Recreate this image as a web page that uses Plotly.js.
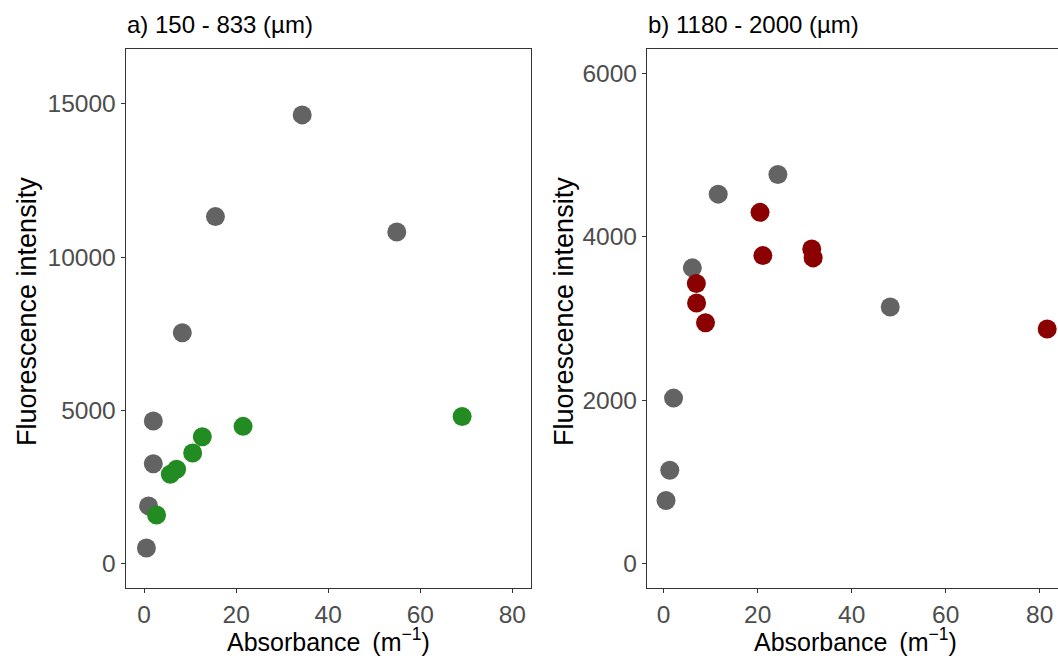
<!DOCTYPE html>
<html>
<head>
<meta charset="utf-8">
<script src="https://cdn.plot.ly/plotly-3.0.1.min.js"></script>
<style>html,body{margin:0;padding:0;background:#fff;}#chart{width:1058px;height:659px;}</style>
</head>
<body>
<div id="chart"></div>
<script>
// Panel a) 150 - 833 µm
const aGreyX = [34.35, 15.5, 54.9, 8.3, 2.0, 2.0, 0.97, 0.5];
const aGreyY = [14640, 11320, 10815, 7530, 4650, 3255, 1880, 505];
const aGreenX = [2.7, 5.7, 7.05, 10.55, 12.65, 21.5, 69.1];
const aGreenY = [1585, 2915, 3075, 3605, 4135, 4475, 4795];

// Panel b) 1180 - 2000 µm
const bGreyX = [24.3, 11.6, 6.1, 48.2, 2.1, 1.3, 0.5];
const bGreyY = [4760, 4520, 3618, 3138, 2024, 1141, 770];
const bRedX = [20.5, 21.1, 31.5, 31.8, 6.95, 7.0, 8.9, 81.6];
const bRedY = [4297, 3768, 3850, 3740, 3427, 3187, 2947, 2870];

// Tick labels
const xTicks = [0, 20, 40, 60, 80];
const xTickText = ["0", "20", "40", "60", "80"];
const aYTicks = [0, 5000, 10000, 15000];
const aYTickText = ["0", "5000", "10000", "15000"];
const bYTicks = [0, 2000, 4000, 6000];
const bYTickText = ["0", "2000", "4000", "6000"];

const titles = ["a) 150 - 833 (µm)", "b) 1180 - 2000 (µm)"];
const yTitle = "Fluorescence intensity";
const xTitle = "Absorbance &#8201;(m<sup>\u22121</sup>)";

const W = 1058, H = 659;
const px = v => v / W;
const py = v => 1 - v / H;

const GREY = '#636363', GREEN = '#228B22', RED = '#8B0000';
const msize = 19;

function mk(x, y, color, xa, ya) {
  return {x: x, y: y, type: 'scatter', mode: 'markers', xaxis: xa, yaxis: ya,
    marker: {color: color, size: msize, line: {width: 0}}, hoverinfo: 'skip', cliponaxis: false};
}

const data = [
  mk(aGreyX, aGreyY, GREY, 'x', 'y'),
  mk(aGreenX, aGreenY, GREEN, 'x', 'y'),
  mk(bGreyX, bGreyY, GREY, 'x2', 'y2'),
  mk(bRedX, bRedY, RED, 'x2', 'y2')
];

const FONT = 'Liberation Sans, Arial, sans-serif';
const axBase = {
  showgrid: false, zeroline: false, ticks: 'outside', ticklen: 4, tickwidth: 1.1,
  tickcolor: '#333333', showline: true, linecolor: '#333333', linewidth: 1.1,
  tickfont: {family: FONT, size: 24.5, color: '#4D4D4D'}, fixedrange: true, tickmode: 'array'
};

const yDom = [py(588), py(48.7)];

const layout = {
  width: W, height: H,
  margin: {l: 0, r: 0, t: 0, b: 0},
  paper_bgcolor: '#ffffff', plot_bgcolor: '#ffffff',
  showlegend: false,
  font: {family: FONT},
  xaxis: Object.assign({}, axBase, {domain: [px(125.7), px(530.7)], range: [-4, 84], tickvals: xTicks, ticktext: xTickText, mirror: true, anchor: 'y'}),
  yaxis: Object.assign({}, axBase, {domain: yDom, range: [-800, 16800], tickvals: aYTicks, ticktext: aYTickText, mirror: true, anchor: 'x'}),
  xaxis2: Object.assign({}, axBase, {domain: [px(647), 1], range: [-3.55, 83.9], tickvals: xTicks, ticktext: xTickText, mirror: true, anchor: 'y2'}),
  yaxis2: Object.assign({}, axBase, {domain: yDom, range: [-300, 6300], tickvals: bYTicks, ticktext: bYTickText, mirror: false, anchor: 'x2'}),
  annotations: [
    {text: titles[0], xref: 'paper', yref: 'paper', x: px(124.5), y: py(25), xanchor: 'left', yanchor: 'middle', showarrow: false, font: {family: FONT, size: 24, color: '#000'}},
    {text: titles[1], xref: 'paper', yref: 'paper', x: px(646), y: py(25), xanchor: 'left', yanchor: 'middle', showarrow: false, font: {family: FONT, size: 24, color: '#000'}},
    {text: yTitle, xref: 'paper', yref: 'paper', x: px(27), y: py(312), xanchor: 'center', yanchor: 'middle', textangle: -90, showarrow: false, font: {family: FONT, size: 27, color: '#000'}},
    {text: yTitle, xref: 'paper', yref: 'paper', x: px(564), y: py(312), xanchor: 'center', yanchor: 'middle', textangle: -90, showarrow: false, font: {family: FONT, size: 27, color: '#000'}},
    {text: xTitle, xref: 'paper', yref: 'paper', x: px(328), y: py(640), xanchor: 'center', yanchor: 'middle', showarrow: false, font: {family: FONT, size: 25, color: '#000'}},
    {text: xTitle, xref: 'paper', yref: 'paper', x: px(855), y: py(640), xanchor: 'center', yanchor: 'middle', showarrow: false, font: {family: FONT, size: 25, color: '#000'}}
  ]
};

Plotly.newPlot('chart', data, layout, {displayModeBar: false, staticPlot: true});
</script>
</body>
</html>
